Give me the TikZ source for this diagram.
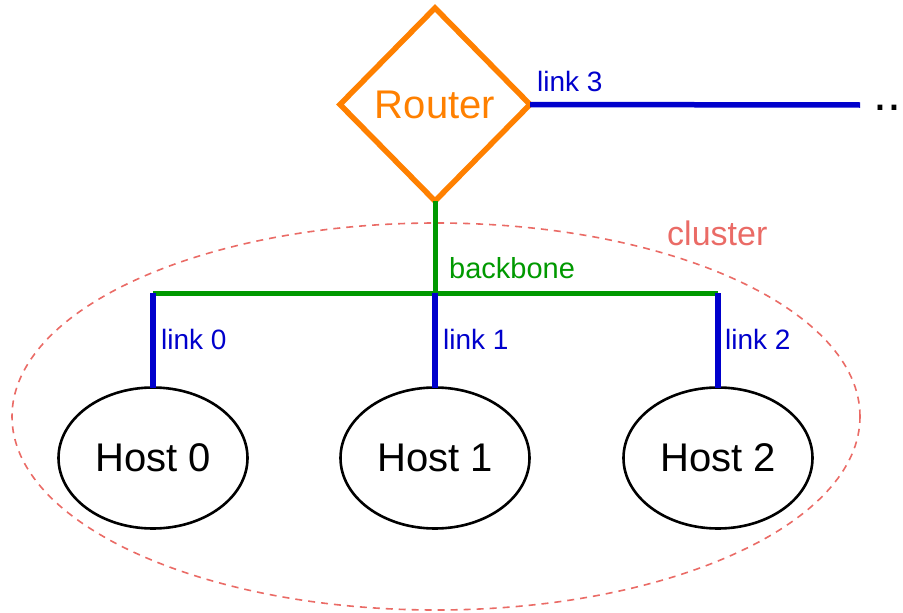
\documentclass[tikz,border=0pt]{standalone}
\usepackage{fontspec}
\setmainfont{Liberation Sans}
\usetikzlibrary{shapes.geometric}
\definecolor{routerorange}{HTML}{FF8000}
\definecolor{linkblue}{HTML}{0000CC}
\definecolor{bbgreen}{HTML}{009900}
\definecolor{clusterred}{HTML}{EA6B66}
\tikzset{
  x=1pt, y=-1pt,
  host/.style={ellipse, draw=black, line width=2.6pt, minimum width=189pt,
    minimum height=141pt, inner sep=0pt, outer sep=0pt,
    font=\fontsize{40}{40}\selectfont},
  router/.style={diamond, draw=routerorange, line width=5.5pt, minimum width=190pt,
    minimum height=193pt, inner sep=0pt, outer sep=0pt, text=routerorange,
    font=\fontsize{40}{40}\selectfont},
  linkline/.style={draw=linkblue, line width=5.5pt},
  bbline/.style={draw=bbgreen, line width=5pt},
  linklabel/.style={anchor=base west, inner sep=0pt, text=linkblue,
    font=\fontsize{28}{28}\selectfont},
  bblabel/.style={anchor=base west, inner sep=0pt, text=bbgreen,
    font=\fontsize{29}{29}\selectfont},
  clusterlabel/.style={anchor=base west, inner sep=0pt, text=clusterred,
    font=\fontsize{34}{34}\selectfont},
  clusterline/.style={draw=clusterred, line width=1.6pt, dash pattern=on 7pt off 6pt}
}
\begin{document}
\begin{tikzpicture}
\useasboundingbox (0,0) rectangle (903,613);

% cluster boundary
\node[clusterline, ellipse, minimum width=848pt, minimum height=387pt, inner sep=0pt]
  (cluster) at (436,416.5) {};
\node[clusterlabel] (clusterlbl) at (667,245) {cluster};

% router and uplink
\node[router] (router) at (435,104.5) {Router};
\coordinate (uplink) at (860,105);
\draw[linkline] (router.east) -- (uplink);
\node[linklabel] (l3) at (537,91) {link 3};
\node[anchor=base west, inner sep=0pt, font=\fontsize{50}{50}\selectfont] (more) at (873.6,110) {..};

% backbone
\coordinate (bbmid) at (435,293);
\coordinate (bbleft) at (153,293);
\coordinate (bbright) at (718,293);
\draw[bbline] (router.south) -- (bbmid);
\draw[bbline] (bbleft) -- (bbright);
\node[bblabel] (bblbl) at (449,278) {backbone};

% hosts
\node[host] (h0) at (153,458) {Host 0};
\node[host] (h1) at (435,458) {Host 1};
\node[host] (h2) at (718,458) {Host 2};

% host links
\draw[linkline] (bbleft) -- (h0.north);
\draw[linkline] (bbmid) -- (h1.north);
\draw[linkline] (bbright) -- (h2.north);
\node[linklabel] (l0) at (161,349) {link 0};
\node[linklabel] (l1) at (443,349) {link 1};
\node[linklabel] (l2) at (725,349) {link 2};
\end{tikzpicture}
\end{document}
